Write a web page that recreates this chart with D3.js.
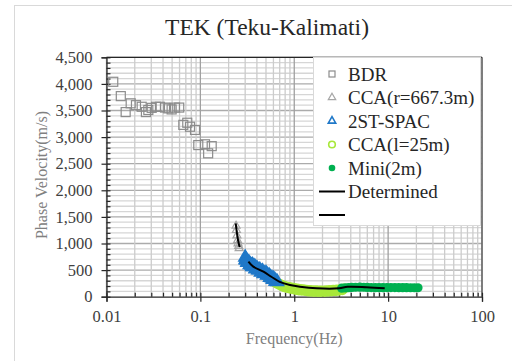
<!DOCTYPE html>
<html>
<head>
<meta charset="utf-8">
<script src="https://cdn.jsdelivr.net/npm/d3@7"></script>
<style>
  body { margin: 0; background: #fff; }
  svg text { font-family: "Liberation Serif", "Times New Roman", serif !important; }
</style>
</head>
<body>
<div id="chart-area"></div>
<script>
// data: [frequency (Hz), phase velocity (m/s)]
var bdr = [[0.0118,4040],[0.0142,3770],[0.016,3470],[0.0181,3635],[0.0206,3600],[0.0237,3570],
	[0.0263,3470],[0.0279,3510],[0.0303,3550],[0.0337,3570],[0.0371,3570],[0.042,3555],
	[0.0455,3540],[0.0494,3520],[0.0536,3555],[0.0595,3555],[0.0658,3230],[0.0725,3270],
	[0.0775,3195],[0.0877,3135],[0.095,2850],[0.112,2865],[0.121,2695],[0.132,2830]];
var ccaR = [[0.240,1330],[0.242,1250],[0.245,1150],[0.249,1060],[0.252,1000],[0.256,950],[0.259,910]];
var spac = [[0.30,740],[0.303,690],[0.305,700],[0.31,690],[0.315,640],[0.32,660],[0.33,640],[0.335,600],
	[0.34,610],[0.35,590],[0.355,560],[0.36,600],[0.37,560],[0.38,570],[0.385,520],[0.39,530],
	[0.40,540],[0.41,500],[0.42,500],[0.43,510],[0.44,460],[0.45,470],[0.46,480],[0.47,430],
	[0.48,440],[0.50,450],[0.51,400],[0.52,410],[0.54,400],[0.55,360],[0.56,370],[0.58,350],
	[0.59,320],[0.60,340],[0.62,320],[0.63,290],[0.64,290],[0.66,280]];
var ccaL = [[0.60,300],[0.62,270],[0.63,280],[0.65,250],[0.66,260],[0.68,230],[0.70,240],[0.72,210],
	[0.74,220],[0.76,190],[0.78,205],[0.80,175],[0.83,190],[0.86,160],[0.88,180],[0.91,150],
	[0.94,170],[0.97,140],[1.0,160],[1.04,130],[1.08,150],[1.12,120],[1.16,145],[1.2,115],
	[1.25,140],[1.3,110],[1.35,130],[1.4,100],[1.45,125],[1.5,95],[1.55,120],[1.62,90],
	[1.7,120],[1.78,90],[1.85,115],[1.92,90],[2.0,115],[2.1,90],[2.2,120],[2.3,95],
	[2.4,125],[2.5,100],[2.6,130],[2.75,105],[2.85,135],[3.0,115],[3.1,140],[3.25,125],[3.4,150]];
var mini = [[3.2,160],[3.5,165],[3.8,170],[4.1,175],[4.5,178],[5,180],[5.5,178],[6,175],[6.6,172],
	[7.3,170],[8,170],[8.8,170],[9.7,172],[10.7,172],[11.8,172],[13,170],[14.3,170],[15.7,170],
	[17.3,168],[19,168],[20.8,168]];
var determined = [[0.325,660],[0.366,565],[0.47,470],[0.57,375],[0.70,280],[0.90,220],[1.15,188],
	[1.73,158],[3.0,158],[3.7,185],[5.9,177],[9.2,158]];
var determined2 = [[0.238,1380],[0.245,1200],[0.252,1060],[0.262,930]];

var yTicks = d3.range(0, 4501, 500);
var xTicks = [0.01, 0.1, 1, 10, 100];
var legendNames = ["BDR", "CCA(r=667.3m)", "2ST-SPAC", "CCA(l=25m)", "Mini(2m)", "Determined", ""];

var margin = {top: 57.3, right: 30, bottom: 64.3, left: 106.5};
var width = 512 - margin.left - margin.right;
var height = 361 - margin.top - margin.bottom;

var svg = d3.select("#chart-area")
	.append("svg")
		.attr("width", 512)
		.attr("height", 361);

// outer chart frame
svg.append("rect")
	.attr("x", 14.5).attr("y", 5.5)
	.attr("width", 520).attr("height", 380)
	.attr("fill", "none")
	.attr("stroke", "#d9d9d9");

svg.append("text")
	.attr("x", 267)
	.attr("y", 35)
	.attr("font-size", "23.5px")
	.attr("text-anchor", "middle")
	.style("fill", "#262626")
	.text("TEK (Teku-Kalimati)");

var g = svg.append("g")
	.attr("transform", "translate(" + margin.left + ", " + margin.top + ")");

var x = d3.scaleLog()
	.domain([0.01, 100])
	.range([0, width]);

var y = d3.scaleLinear()
	.domain([0, 4500])
	.range([height, 0]);

var isMajorX = function(d) { return Math.abs(Math.log10(d) - Math.round(Math.log10(d))) < 1e-9; };

// grid lines
g.selectAll(".hgrid").data(d3.range(100, 4501, 100)).enter()
	.append("line")
		.attr("x1", 0).attr("x2", width)
		.attr("y1", (d) => y(d)).attr("y2", (d) => y(d))
		.attr("stroke", (d) => d % 500 == 0 ? "#ababab" : "#d6d6d6")
		.attr("stroke-width", 1.3);

g.selectAll(".vgrid").data(x.ticks()).enter()
	.append("line")
		.attr("x1", (d) => x(d)).attr("x2", (d) => x(d))
		.attr("y1", 0).attr("y2", height)
		.attr("stroke", (d) => isMajorX(d) ? "#a0a0a0" : "#cccccc")
		.attr("stroke-width", 1.3);

// plot border top / right
g.append("line").attr("x1", 0).attr("x2", width).attr("y1", 0).attr("y2", 0)
	.attr("stroke", "#262626").attr("stroke-width", 1.3);
g.append("line").attr("x1", width).attr("x2", width).attr("y1", 0).attr("y2", height)
	.attr("stroke", "#595959").attr("stroke-width", 1.3);

// axes
var leftAxis = d3.axisLeft(y).tickValues(yTicks).tickFormat(d3.format(",")).tickSize(5).tickPadding(9);
g.append("g").attr("class", "left axis").call(leftAxis);
g.append("g").attr("class", "left minor")
	.call(d3.axisRight(y).tickValues(d3.range(0, 4501, 100)).tickSize(4).tickFormat(""))
	.select(".domain").remove();

var bottomAxis = d3.axisBottom(x).tickValues(xTicks).tickFormat(d3.format("~g")).tickSize(5).tickPadding(9);
g.append("g").attr("class", "bottom axis")
	.attr("transform", "translate(0, " + height + ")")
	.call(bottomAxis);
g.append("g").attr("class", "bottom minor")
	.attr("transform", "translate(0, " + height + ")")
	.call(d3.axisTop(x).tickValues(x.ticks()).tickSize(4).tickFormat(""))
	.select(".domain").remove();

g.selectAll(".axis path, .axis line, .minor line").attr("stroke", "#262626").attr("stroke-width", 1.2);
g.selectAll(".axis text").attr("font-size", "16.5px").style("fill", "#404040");

g.append("text")
	.attr("x", -(height / 2) + 2)
	.attr("y", -60)
	.attr("font-size", "16px")
	.attr("text-anchor", "middle")
	.attr("transform", "rotate(-90)")
	.style("fill", "#808080")
	.text("Phase Velocity(m/s)");

g.append("text")
	.attr("x", x(1))
	.attr("y", height + 47)
	.attr("font-size", "16px")
	.attr("text-anchor", "middle")
	.style("fill", "#808080")
	.text("Frequency(Hz)");

// series
var tri = d3.symbol().type(d3.symbolTriangle);

g.selectAll(".ccal").data(ccaL).enter()
	.append("circle")
		.attr("cx", (d) => x(d[0])).attr("cy", (d) => y(d[1]))
		.attr("r", 3.8)
		.attr("fill", "none").attr("stroke", "#a8e83a").attr("stroke-width", 2.6);

g.selectAll(".mini").data(mini).enter()
	.append("circle")
		.attr("cx", (d) => x(d[0])).attr("cy", (d) => y(d[1]))
		.attr("r", 4.6)
		.attr("fill", "#00b050");

g.selectAll(".spac").data(spac).enter()
	.append("path")
		.attr("d", tri.size(50))
		.attr("transform", (d) => "translate(" + x(d[0]) + "," + y(d[1]) + ")")
		.attr("fill", "none").attr("stroke", "#1f78c8").attr("stroke-width", 2.6);

g.selectAll(".ccar").data(ccaR).enter()
	.append("path")
		.attr("d", tri.size(28))
		.attr("transform", (d) => "translate(" + x(d[0]) + "," + y(d[1]) + ")")
		.attr("fill", "none").attr("stroke", "#a6a6a6").attr("stroke-width", 1.2);

g.selectAll(".bdr").data(bdr).enter()
	.append("rect")
		.attr("x", (d) => x(d[0]) - 4.5).attr("y", (d) => y(d[1]) - 4.5)
		.attr("width", 9).attr("height", 9)
		.attr("fill", "none").attr("stroke", "#8c8c8c").attr("stroke-width", 1.2);

var line = d3.line().x((d) => x(d[0])).y((d) => y(d[1])).curve(d3.curveCatmullRom);
g.append("path").datum(determined).attr("d", line)
	.attr("fill", "none").attr("stroke", "#000").attr("stroke-width", 2);
g.append("path").datum(determined2).attr("d", line)
	.attr("fill", "none").attr("stroke", "#000").attr("stroke-width", 2);

// legend
var lg = svg.append("g").attr("transform", "translate(313, 57)");
lg.append("rect")
	.attr("x", 0.5).attr("y", 0.5)
	.attr("width", 167).attr("height", 168)
	.attr("fill", "#fff").attr("stroke", "#d9d9d9");

var ly = (i) => 17 + i * 23.5;
var rows = lg.selectAll(".row").data(legendNames).enter()
	.append("g").attr("transform", (d, i) => "translate(0," + ly(i) + ")");
rows.append("text")
	.attr("x", 35).attr("y", 6.5)
	.attr("font-size", "19px")
	.style("fill", "#262626")
	.text((d) => d);

lg.append("rect").attr("x", 16).attr("y", ly(0) - 3).attr("width", 6).attr("height", 6)
	.attr("fill", "none").attr("stroke", "#8c8c8c").attr("stroke-width", 1.2);
lg.append("path").attr("d", tri.size(24)).attr("transform", "translate(19," + ly(1) + ")")
	.attr("fill", "none").attr("stroke", "#a6a6a6").attr("stroke-width", 1.2);
lg.append("path").attr("d", tri.size(24)).attr("transform", "translate(19," + ly(2) + ")")
	.attr("fill", "none").attr("stroke", "#1f78c8").attr("stroke-width", 1.6);
lg.append("circle").attr("cx", 19).attr("cy", ly(3)).attr("r", 3.3)
	.attr("fill", "none").attr("stroke", "#a8e83a").attr("stroke-width", 1.6);
lg.append("circle").attr("cx", 19).attr("cy", ly(4)).attr("r", 3.3).attr("fill", "#00b050");
[5, 6].forEach(function(i) {
	lg.append("line").attr("x1", 6).attr("x2", 32).attr("y1", ly(i)).attr("y2", ly(i))
		.attr("stroke", "#000").attr("stroke-width", 2);
});
</script>
</body>
</html>
